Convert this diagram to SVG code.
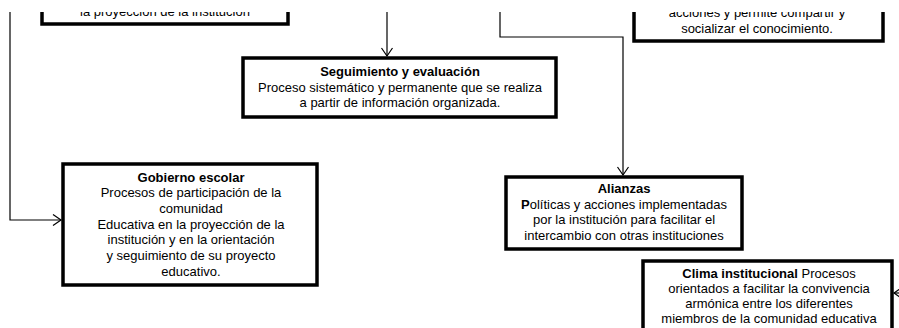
<svg xmlns="http://www.w3.org/2000/svg" width="899" height="328" viewBox="0 0 899 328">
<style>
.box{fill:#fff;stroke:#000;stroke-width:3.5}
.t{font-family:"Liberation Sans",Arial,sans-serif;font-size:13px;fill:#000;text-anchor:middle}
.b{font-weight:bold}
.c{fill:none;stroke:#000;stroke-width:1.2}
</style>
<defs>
<marker id="ah" markerUnits="userSpaceOnUse" markerWidth="12" markerHeight="14" refX="9" refY="6" orient="auto" viewBox="0 0 12 12">
<path d="M1,0.5 L9,6 L1,11.5" fill="none" stroke="#000" stroke-width="1.2"/>
</marker>
<clipPath id="clip"><rect x="0" y="12" width="899" height="316"/></clipPath>
</defs>
<g clip-path="url(#clip)">
<g id="connectors">
<polyline class="c" points="10,0 10,220 61,220" marker-end="url(#ah)"/>
<polyline class="c" points="387,0 387,56" marker-end="url(#ah)"/>
<polyline class="c" points="500,0 500,37 623,37 623,175" marker-end="url(#ah)"/>
<polyline class="c" points="905,293 894,293" marker-end="url(#ah)"/>
</g>
<g id="node-proyeccion">
<rect class="box" x="42" y="-20" width="246" height="44"/>
<text class="t" x="165" y="16">la proyección de la institución</text>
</g>
<g id="node-conocimiento">
<rect class="box" x="634" y="-20" width="249" height="61"/>
<text class="t" x="757" y="17">acciones y permite compartir y</text>
<text class="t" x="757" y="33">socializar el conocimiento.</text>
</g>
<g id="node-seguimiento">
<rect class="box" x="243" y="58" width="313" height="59"/>
<text class="t b" x="400" y="76">Seguimiento y evaluación</text>
<text class="t" x="400" y="92">Proceso sistemático y permanente que se realiza</text>
<text class="t" x="400" y="107">a partir de información organizada.</text>
</g>
<g id="node-gobierno">
<rect class="box" x="63" y="164" width="254" height="121"/>
<text class="t b" x="191" y="182">Gobierno escolar</text>
<text class="t" x="191" y="197">Procesos de participación de la</text>
<text class="t" x="191" y="213">comunidad</text>
<text class="t" x="191" y="229">Educativa en la proyección de la</text>
<text class="t" x="191" y="244">institución y en la orientación</text>
<text class="t" x="191" y="260">y seguimiento de su proyecto</text>
<text class="t" x="191" y="276">educativo.</text>
</g>
<g id="node-alianzas">
<rect class="box" x="506" y="177" width="236" height="72"/>
<text class="t b" x="624" y="193">Alianzas</text>
<text class="t" x="624" y="209"><tspan class="b">P</tspan>olíticas y acciones implementadas</text>
<text class="t" x="624" y="224">por la institución  para facilitar el</text>
<text class="t" x="624" y="240">intercambio con otras instituciones</text>
</g>
<g id="node-clima">
<rect class="box" x="643" y="261" width="249" height="80"/>
<text class="t" x="769" y="278"><tspan class="b">Clima institucional</tspan> Procesos</text>
<text class="t" x="769" y="293">orientados a facilitar la convivencia</text>
<text class="t" x="769" y="308">armónica entre los diferentes</text>
<text class="t" x="769" y="323">miembros de la comunidad educativa</text>
</g>
</g>
</svg>
